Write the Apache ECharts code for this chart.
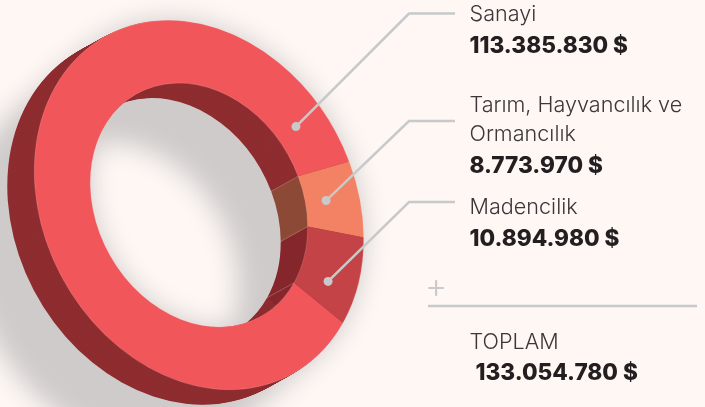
<!DOCTYPE html>
<html>
<head>
<meta charset="utf-8">
<script src="https://cdn.jsdelivr.net/npm/echarts@6/dist/echarts.min.js"></script>
<style>html,body{margin:0;padding:0;background:#fef7f4;}</style>
</head>
<body>
<div id="main" style="width:705px;height:407px;"></div>

<script type="text/javascript">
// data
var categories = ['Sanayi', 'Tarım, Hayvancılık ve\nOrmancılık', 'Madencilik'];
var values = [113385830, 8773970, 10894980];
var totalLabel = 'TOPLAM';

// colours, one per category
var faceColors = ['#f1565b', '#f38163', '#c44347'];
var wallColors = ['#8e2d30', '#8c4a36', '#85272c'];

// tilted ring geometry
var cx = 199, cy = 205;
var rMinor = 155, rMajor = 193, holeRatio = 0.66;
var tilt = 61 * Math.PI / 180;
var startDeg = -26.4;
var depthX = -27, depthY = 15;
var shadowX = -70, shadowY = 60;

// where each leader leaves its wedge, and where its text sits
var anchorAlong = [0.94, 0.5, 0.67];
var anchorRadius = [0.8, 0.79, 0.83];
var elbowX = 409, lineEndX = 455;
var elbowY = [13.5, 121, 202];
var nameY = [14, 105, 207];
var valueY = [46, 166, 239];
var textX = 469.5;

var total = values.reduce(function (a, b) { return a + b; }, 0);

function money(v) {
    return String(v).replace(/\B(?=(\d{3})+$)/g, '.') + ' $';
}

function wedgeAngles(i) {
    var before = 0;
    for (var k = 0; k < i; k++) before += values[k];
    var a0 = startDeg + 360 * before / total;
    return [a0 * Math.PI / 180, (a0 + 360 * values[i] / total) * Math.PI / 180];
}

// ellipse frame: unit circle angle -> screen point
function ringPoint(angle, r) {
    var u = Math.cos(angle) * rMajor * r, v = Math.sin(angle) * rMinor * r;
    return [
        cx + u * Math.cos(tilt) - v * Math.sin(tilt),
        cy + u * Math.sin(tilt) + v * Math.cos(tilt)
    ];
}

// the ring swept along the shadow direction, one path so the blur is even
echarts.graphic.registerShape('shadowSweep', echarts.graphic.extendShape({
    shape: {},
    buildPath: function (ctx) {
        var copies = 24, seg = 120;
        function loop(r, dir, ox, oy) {
            for (var j = 0; j <= seg; j++) {
                var p = ringPoint(dir * j / seg * Math.PI * 2, r);
                if (j === 0) ctx.moveTo(p[0] + ox, p[1] + oy);
                else ctx.lineTo(p[0] + ox, p[1] + oy);
            }
            ctx.closePath();
        }
        for (var c = 0; c <= copies; c++) {
            var ox = shadowX * c / copies, oy = shadowY * c / copies;
            loop(1, 1, ox, oy);
            loop(holeRatio, -1, ox, oy);
        }
    }
}));

function ringSlice(a, color, ox, oy) {
    return {
        type: 'group',
        x: cx + ox,
        y: cy + oy,
        rotation: -tilt,
        scaleX: rMajor / rMinor,
        children: [{
            type: 'sector',
            shape: { cx: 0, cy: 0, r: rMinor, r0: rMinor * holeRatio, startAngle: a[0], endAngle: a[1], clockwise: true },
            style: { fill: color }
        }]
    };
}

function renderShadow() {
    var off = 2000; // shape sits off canvas, only its blurred shadow lands on the page
    return {
        type: 'shadowSweep',
        x: -off,
        shape: {},
        style: { fill: '#cfcbca', shadowBlur: 26, shadowColor: '#cfcbca', shadowOffsetX: off }
    };
}

function renderWalls(params) {
    var i = params.dataIndex, a = wedgeAngles(i), kids = [], n = 31;
    for (var k = n; k >= 1; k--) {
        kids.push(ringSlice(a, wallColors[i], depthX * k / n, depthY * k / n));
    }
    return { type: 'group', children: kids };
}

function renderFaces(params) {
    var i = params.dataIndex, a = wedgeAngles(i);
    var p = ringPoint(a[0], holeRatio);
    return {
        type: 'group',
        children: [ringSlice(a, faceColors[i], 0, 0), {
            // pale seam down the inner wall
            type: 'line',
            shape: { x1: p[0], y1: p[1], x2: p[0] + depthX, y2: p[1] + depthY },
            style: { stroke: 'rgba(255,225,215,0.35)', lineWidth: 0.7 }
        }]
    };
}

function renderRim() {
    var rims = [rMinor, rMinor * holeRatio].map(function (r) {
        return {
            type: 'circle',
            shape: { cx: 0, cy: 0, r: r },
            style: { fill: null, stroke: 'rgba(255,225,215,0.3)', lineWidth: 0.5 }
        };
    });
    return { type: 'group', x: cx, y: cy, rotation: -tilt, scaleX: rMajor / rMinor, children: rims };
}

function renderLeaders(params) {
    var i = params.dataIndex, a = wedgeAngles(i);
    var p = ringPoint(a[0] + (a[1] - a[0]) * anchorAlong[i], anchorRadius[i]);
    return {
        type: 'group',
        children: [{
            type: 'polyline',
            shape: { points: [p, [elbowX, elbowY[i]], [lineEndX, elbowY[i]]] },
            style: { stroke: '#c8c9ca', lineWidth: 2.5, fill: null }
        }, {
            type: 'circle',
            shape: { cx: p[0], cy: p[1], r: 4.5 },
            style: { fill: '#c8c9ca' }
        }]
    };
}

function customSeries(fn, z, data) {
    return { type: 'custom', coordinateSystem: 'none', renderItem: fn, data: data, z: z, silent: true, animation: false };
}

function label(x, y, text, bold) {
    return {
        type: 'text',
        x: x,
        y: y,
        silent: true,
        style: {
            text: text,
            fill: bold ? '#231f20' : '#3b3738',
            font: (bold ? '800 22.6px' : '300 21.6px') + ' Inter, sans-serif',
            verticalAlign: 'middle',
            lineHeight: 29
        }
    };
}

var texts = [];
categories.forEach(function (name, i) {
    texts.push(label(textX, name.indexOf('\n') > 0 ? nameY[i] + 14.5 : nameY[i], name, false));
    texts.push(label(textX, valueY[i], money(values[i]), true));
});
texts.push(label(textX, 342, totalLabel, false));
texts.push(label(475.5, 373, money(total), true));
texts.push({
    type: 'text', x: 425, y: 288, silent: true,
    style: { text: '+', fill: '#c8c9ca', font: '300 34px Inter, sans-serif', verticalAlign: 'middle' }
});
texts.push({
    type: 'line', silent: true,
    shape: { x1: 428, y1: 306, x2: 697, y2: 306 },
    style: { stroke: '#c8c9ca', lineWidth: 2.5 }
});

var option = {
    backgroundColor: '#fef7f4',
    animation: false,
    graphic: { elements: texts },
    series: [
        customSeries(renderShadow, 1, [total]),
        customSeries(renderWalls, 2, values),
        customSeries(renderFaces, 3, values),
        customSeries(renderRim, 4, [total]),
        customSeries(renderLeaders, 5, values)
    ]
};

var myChart = echarts.init(document.getElementById('main'));
myChart.setOption(option);
</script>
</body>
</html>
